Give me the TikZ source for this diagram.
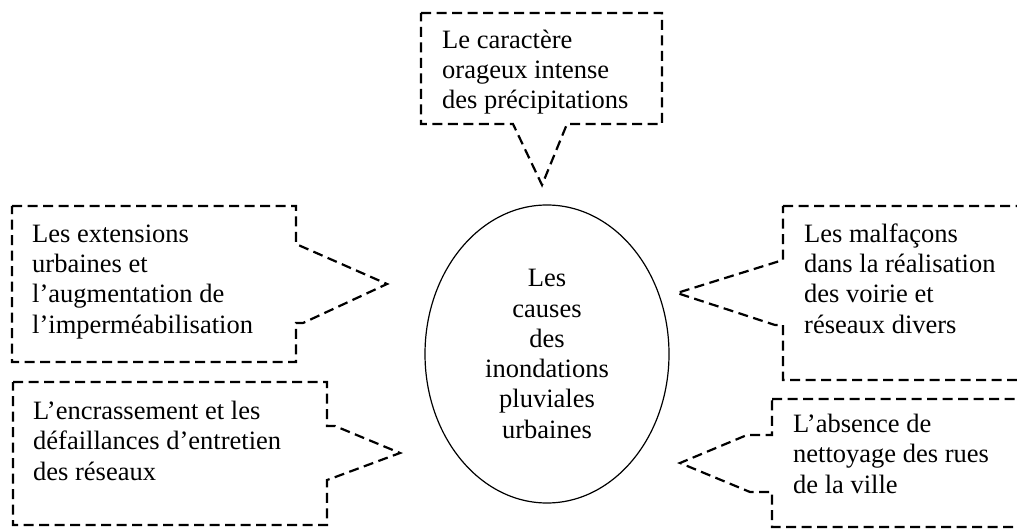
\documentclass[tikz,border=0pt]{standalone}
\usepackage{fontspec}
\setmainfont{Liberation Serif}
\usetikzlibrary{shapes.geometric}
\tikzset{
  callout/.style={dash pattern=on 10pt off 5.5pt, line width=2.2pt},
  causetext/.style={font=\fontsize{26.5}{30.3}\selectfont, inner sep=0pt, align=left},
}
\begin{document}
\begin{tikzpicture}[x=1pt,y=-1pt]
  \useasboundingbox (0,0) rectangle (1017,529);
  \clip (0,0) rectangle (1017,529);
  % centre
  \node[draw, ellipse, line width=1.2pt, minimum width=244pt, minimum height=298pt,
        inner sep=0pt, align=center, font=\fontsize{26.5}{30.3}\selectfont]
        (causes) at (547,354) {Les\\causes\\des\\inondations\\pluviales\\urbaines};
  % tips of the callouts
  \coordinate (tipA) at (542,185);
  \coordinate (tipB) at (387,284);
  \coordinate (tipC) at (400,453);
  \coordinate (tipD) at (677,293);
  \coordinate (tipE) at (680,463);
  % callouts
  \draw[callout] (421,13) -- (662,13) -- (662,124) -- (567,124) -- (tipA)
    -- (513,124) -- (421,124) -- cycle;
  \draw[callout] (12,206) -- (296,206) -- (296,244) -- (tipB) -- (303,323)
    -- (296,323) -- (296,362) -- (12,362) -- cycle;
  \draw[callout] (13,382) -- (327,382) -- (327,426) -- (335,426) -- (tipC)
    -- (330,479) -- (327,480) -- (327,525) -- (13,525) -- cycle;
  \draw[callout] (783,206) -- (1030,206) -- (1030,380) -- (783,380) -- (783,325)
    -- (775,325) -- (tipD) -- (783,260) -- cycle;
  \draw[callout] (772,399) -- (1030,399) -- (1030,527) -- (772,527) -- (772,492)
    -- (750,492) -- (tipE) -- (747,435) -- (772,435) -- cycle;
  % texts (base = last line)
  \node[causetext, anchor=base west] (orageux) at (442,109)
    {Le caractère\\orageux intense\\des précipitations};
  \node[causetext, anchor=base west] (extensions) at (32,333)
    {Les extensions\\urbaines et\\l’augmentation de\\l’imperméabilisation};
  \node[causetext, anchor=base west] (encrassement) at (33,480)
    {L’encrassement et les\\défaillances d’entretien\\des réseaux};
  \node[causetext, anchor=base west] (malfacons) at (804,333)
    {Les malfaçons\\dans la réalisation\\des voirie et\\réseaux divers};
  \node[causetext, anchor=base west] (absence) at (793,493)
    {L’absence de\\nettoyage des rues\\de la ville};
\end{tikzpicture}
\end{document}
